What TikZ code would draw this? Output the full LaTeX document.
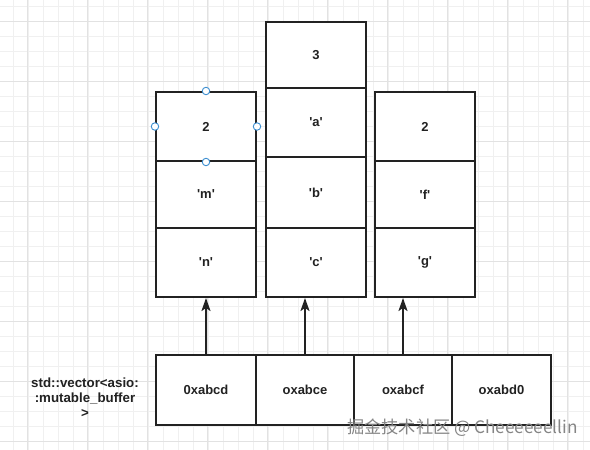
\documentclass[tikz,border=0pt]{standalone}
\usepackage{fontspec}
\setmainfont{Liberation Sans}
\newfontfamily\cjk{Noto Sans CJK SC}
\usetikzlibrary{arrows.meta}
\definecolor{ink}{HTML}{222222}
\definecolor{gridminor}{HTML}{F0F0F0}
\definecolor{gridmajor}{HTML}{E2E2E2}
\definecolor{handle}{HTML}{3D8FD1}
\definecolor{wm}{HTML}{858585}
\newcommand{\q}[1]{\textquotesingle#1\textquotesingle}
\begin{document}
\begin{tikzpicture}[x=1pt,y=-1pt,
  cell/.style={draw=ink,line width=2pt,fill=white,inner sep=0pt,minimum width=100pt,
    font=\bfseries\fontsize{13}{15}\selectfont,text=ink},
  arr/.style={draw=ink,line width=2pt,-{Stealth[length=13pt,width=9pt,inset=3pt]}},
  hdl/.style={circle,draw=handle,fill=white,line width=0.9pt,inner sep=0pt,minimum size=7.5pt},
  lbl/.style={align=center,font=\bfseries\fontsize{13.3}{15}\selectfont,text=ink},
  wmk/.style={anchor=west,inner sep=0pt,font=\cjk\fontsize{17.2}{19}\selectfont,text=wm}]
\useasboundingbox (0,0) rectangle (590,450);
\fill[white] (0,0) rectangle (590,450);
% grid
\foreach \x in {13,28,...,590} {\draw[gridminor,line width=0.8pt] (\x,0) -- (\x,450);}
\foreach \y in {6,21,...,450} {\draw[gridminor,line width=0.8pt] (0,\y) -- (590,\y);}
\foreach \x in {27,87,...,590} {\draw[gridmajor,line width=0.8pt] (\x,0) -- (\x,450);}
\foreach \y in {21,81,...,450} {\draw[gridmajor,line width=0.8pt] (0,\y) -- (590,\y);}
% left stack
\node[cell,minimum height=69pt] (l1) at (206,126.5) {2};
\node[cell,minimum height=67pt] (l2) at (206,194.5) {\q{m}};
\node[cell,minimum height=69pt] (l3) at (206,262.5) {\q{n}};
% middle stack
\node[cell,minimum height=66pt] (m0) at (316,55) {3};
\node[cell,minimum height=69pt] (m1) at (316,122.5) {\q{a}};
\node[cell,minimum height=71pt] (m2) at (316,192.5) {\q{b}};
\node[cell,minimum height=69pt] (m3) at (316,262.5) {\q{c}};
% right stack
\node[cell,minimum height=69pt] (r1) at (425,126.5) {2};
\node[cell,minimum height=67pt] (r2) at (425,194.5) {\q{f}};
\node[cell,minimum height=69pt] (r3) at (425,262.5) {\q{g}};
% bottom row
\node[cell,minimum width=100pt,minimum height=70pt] (b1) at (206,390) {0xabcd};
\node[cell,minimum width=98pt,minimum height=70pt] (b2) at (305,390) {oxabce};
\node[cell,minimum width=98pt,minimum height=70pt] (b3) at (403,390) {oxabcf};
\node[cell,minimum width=99pt,minimum height=70pt] (b4) at (501.5,390) {oxabd0};
% label
\node[lbl] (vec) at (85,398) {std::vector<asio:\\:mutable\_buffer\\>};
% arrows
\draw[arr] (b1.north) -- (b1.north |- l3.south);
\draw[arr] (b2.north) -- (b2.north |- m3.south);
\draw[arr] (b3.north) -- (b3.north |- r3.south);
% selection handles
\node[hdl] (h1) at (l1.north) {};
\node[hdl] (h2) at (l1.west) {};
\node[hdl] (h3) at (l1.east) {};
\node[hdl] (h4) at (l1.south) {};
% watermark
\node[wmk] (wmark) at (347,428) {掘金技术社区 @ Cheeeeeellin};
\end{tikzpicture}
\end{document}
